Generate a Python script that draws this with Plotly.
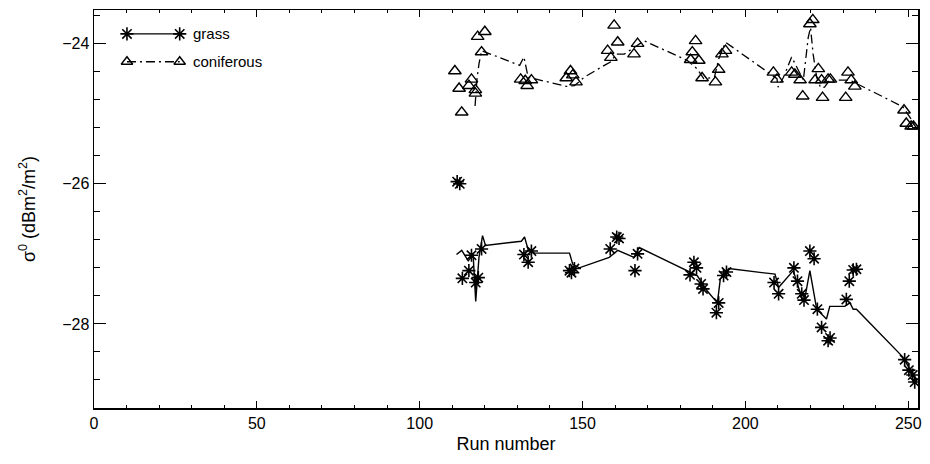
import plotly.graph_objects as go

# ---- data ----
grass_run = [111.5, 112.3, 113.1, 115.1, 115.9, 117.2, 118.0, 119.0,
             132.0, 133.3, 134.3, 146.0, 146.6, 147.5, 158.5, 160.5, 161.2, 166.1,
             166.9, 183.0, 184.2, 185.0, 186.4, 187.0, 191.1, 191.8, 193.3, 194.2,
             208.8, 210.2, 214.9, 216.0, 217.3, 218.0, 219.8, 221.1, 222.1, 223.4,
             225.4, 226.0, 231.0, 231.9, 233.1, 234.1, 248.9, 250.2, 251.4, 252.0]
grass_sigma = [-25.97, -26.00, -27.35, -27.24, -27.02, -27.41, -27.34, -26.93,
               -27.01, -27.12, -26.96, -27.24, -27.27, -27.21, -26.93, -26.76, -26.78, -27.24,
               -27.00, -27.30, -27.12, -27.20, -27.43, -27.50, -27.84, -27.70, -27.31, -27.26,
               -27.41, -27.57, -27.20, -27.39, -27.57, -27.66, -26.96, -27.07, -27.79, -28.05,
               -28.24, -28.20, -27.65, -27.39, -27.23, -27.22, -28.51, -28.66, -28.73, -28.83]

grass_fit_run = [111.3, 112.9, 114.9, 116.4, 117.2, 118.2, 119.3, 120.2, 131.2, 132.2,
                 133.3, 135.3, 146.0, 147.0, 149.0, 158.2, 160.8, 165.8, 167.4, 182.2,
                 185.2, 188.3, 191.4, 192.3, 194.9, 209.1, 210.2, 214.7, 216.8, 218.3,
                 219.8, 221.9, 224.9, 225.9, 230.5, 232.1, 233.1, 234.1, 248.3, 252.4]
grass_fit_sigma = [-27.01, -26.95, -27.10, -27.01, -27.68, -27.05, -26.74, -26.88, -26.82, -26.76,
                   -26.94, -26.99, -26.99, -27.15, -27.20, -27.05, -26.95, -27.05, -26.91, -27.24,
                   -27.31, -27.53, -27.70, -27.36, -27.21, -27.29, -27.48, -27.24, -27.55, -27.62,
                   -27.24, -27.79, -27.93, -27.75, -27.75, -27.70, -27.79, -27.79, -28.47, -28.80]

conif_run = [110.8, 112.1, 112.9, 115.1, 115.9, 117.1, 117.1, 117.8, 119.0, 120.0,
             131.0, 132.4, 133.0, 134.3, 145.0, 146.3, 147.0, 148.0, 157.7, 158.7,
             159.7, 160.8, 165.8, 166.9, 183.2, 183.7, 184.7, 185.7, 186.7, 190.8,
             191.8, 192.8, 193.9, 208.6, 209.7, 214.2, 215.2, 216.8, 217.6, 219.8,
             220.7, 221.4, 222.4, 223.4, 223.7, 225.4, 226.1, 230.8, 231.5, 232.5,
             233.6, 248.7, 249.4, 250.9, 251.6]
conif_sigma = [-24.39, -24.64, -24.98, -24.60, -24.51, -24.66, -24.71, -23.90, -24.12, -23.83,
               -24.51, -24.53, -24.60, -24.52, -24.49, -24.39, -24.45, -24.55, -24.10, -24.20,
               -23.74, -23.98, -24.15, -24.00, -24.23, -24.12, -23.96, -24.24, -24.49, -24.55,
               -24.37, -24.15, -24.10, -24.41, -24.51, -24.41, -24.44, -24.52, -24.75, -23.72,
               -23.66, -24.52, -24.36, -24.52, -24.77, -24.51, -24.51, -24.77, -24.41, -24.52,
               -24.61, -24.95, -25.14, -25.18, -25.18]

conif_fit_run = [117.0, 117.6, 118.2, 119.0, 130.7, 132.0, 133.3, 145.0, 147.5, 150.5,
                 156.7, 158.7, 160.3, 162.8, 168.9, 182.2, 185.2, 187.2, 190.5, 191.8,
                 193.9, 209.7, 210.0, 211.7, 214.2, 217.8, 219.3, 220.0, 220.8, 221.9,
                 223.1, 224.3, 225.9, 232.0, 248.3, 252.4]
conif_fit_sigma = [-24.89, -24.50, -24.29, -24.10, -24.31, -24.19, -24.48, -24.61, -24.60, -24.48,
                   -24.31, -24.26, -24.15, -24.15, -23.96, -24.24, -24.36, -24.50, -24.48, -24.22,
                   -23.98, -24.50, -24.62, -24.48, -24.19, -24.52, -23.91, -23.77, -24.15, -24.48,
                   -24.63, -24.62, -24.52, -24.52, -24.90, -25.18]

series_names = ["grass", "coniferous"]
x_ticks = [0, 50, 100, 150, 200, 250]
y_ticks = [-28, -26, -24]

FONT = "Liberation Sans, Arial, Helvetica, sans-serif"
DASHDOT = "9px,4px,2px,4px"

fig = go.Figure()

fig.add_trace(go.Scatter(x=grass_fit_run, y=grass_fit_sigma, mode="lines",
                         line=dict(color="black", width=1.4), showlegend=False))
fig.add_trace(go.Scatter(x=grass_run, y=grass_sigma, mode="markers",
                         marker=dict(symbol="asterisk-open", size=11, color="black",
                                     line=dict(color="black", width=1.6)),
                         showlegend=False))
fig.add_trace(go.Scatter(x=conif_fit_run, y=conif_fit_sigma, mode="lines",
                         line=dict(color="black", width=1.3, dash=DASHDOT), showlegend=False))
fig.add_trace(go.Scatter(x=conif_run, y=conif_sigma, mode="markers",
                         marker=dict(symbol="triangle-up-open", size=11, color="black",
                                     line=dict(color="black", width=1.4)),
                         showlegend=False))

# ---- hand-drawn legend on an overlay (paper-like) axis ----
leg_x = [0.040, 0.104]
leg_y = [0.94, 0.87]
fig.add_trace(go.Scatter(x=leg_x, y=[leg_y[0]] * 2, mode="lines+markers", xaxis="x2", yaxis="y2",
                         line=dict(color="black", width=1.4),
                         marker=dict(symbol="asterisk-open", size=11, color="black",
                                     line=dict(color="black", width=1.6)),
                         showlegend=False, hoverinfo="skip"))
fig.add_trace(go.Scatter(x=leg_x, y=[leg_y[1]] * 2, mode="lines+markers", xaxis="x2", yaxis="y2",
                         line=dict(color="black", width=1.3, dash=DASHDOT),
                         marker=dict(symbol="triangle-up-open", size=10, color="black",
                                     line=dict(color="black", width=1.4)),
                         showlegend=False, hoverinfo="skip"))
for name, yy in zip(series_names, leg_y):
    fig.add_annotation(x=0.118, y=yy, xref="paper", yref="paper", text=name,
                       showarrow=False, xanchor="left", yanchor="middle",
                       font=dict(family=FONT, size=15, color="black"))

fig.update_layout(
    width=930, height=464,
    margin=dict(l=94, r=8, t=9, b=56),
    paper_bgcolor="white", plot_bgcolor="white",
    font=dict(family=FONT, size=16, color="black"),
    hovermode=False,
    xaxis=dict(range=[0, 253], tickvals=x_ticks, ticktext=[str(v) for v in x_ticks],
               ticks="inside", ticklen=7, tickwidth=1, tickcolor="black",
               minor=dict(dtick=10, tick0=0, ticks="inside", ticklen=3, tickcolor="black"),
               showline=True, linecolor="black", linewidth=1.5, mirror="allticks",
               showgrid=False, zeroline=False,
               title=dict(text="Run number", font=dict(size=18), standoff=6),
               tickfont=dict(size=16)),
    yaxis=dict(range=[-29.2, -23.52], tickvals=y_ticks, ticktext=["\u221228", "\u221226", "\u221224"],
               ticks="inside", ticklen=12, tickwidth=1, tickcolor="black",
               minor=dict(dtick=0.4, tick0=-24, ticks="inside", ticklen=6, tickcolor="black"),
               showline=True, linecolor="black", linewidth=1.5, mirror="allticks",
               showgrid=False, zeroline=False,
               title=dict(text="\u03c3<sup>0</sup> (dBm<sup>2</sup>/m<sup>2</sup>)", font=dict(size=18), standoff=22),
               tickfont=dict(size=16)),
    xaxis2=dict(range=[0, 1], domain=[0, 1], anchor="y2", overlaying="x", visible=False),
    yaxis2=dict(range=[0, 1], domain=[0, 1], anchor="x2", overlaying="y", visible=False),
)

fig.write_html(
    "out.html",
    config={"displayModeBar": False, "staticPlot": True},
    post_script="document.body.style.margin='0';document.body.style.overflow='hidden';"
                "document.documentElement.style.overflow='hidden';",
)
